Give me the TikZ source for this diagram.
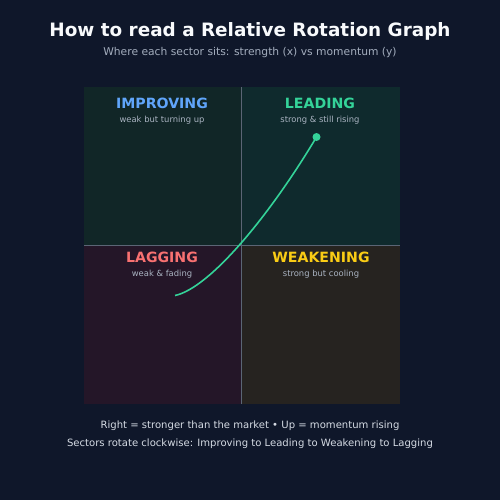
\documentclass[tikz,border=0pt]{standalone}
\usepackage{fontspec}
\setmainfont{DejaVu Sans}
\definecolor{bgc}{HTML}{0F172A}
\definecolor{qtl}{HTML}{112627}
\definecolor{qtr}{HTML}{0F2A2D}
\definecolor{qbl}{HTML}{241628}
\definecolor{qbr}{HTML}{262320}
\definecolor{axisc}{HTML}{5B6575}
\definecolor{titlec}{HTML}{F8FAFC}
\definecolor{subc}{HTML}{A3ADBD}
\definecolor{smallc}{HTML}{A9B3C1}
\definecolor{footc}{HTML}{D5DBE4}
\definecolor{impc}{HTML}{60A5FA}
\definecolor{leadc}{HTML}{34D399}
\definecolor{lagc}{HTML}{F87171}
\definecolor{weakc}{HTML}{FACC15}
\definecolor{curvec}{HTML}{34D399}
\tikzset{
  qname/.style={font=\bfseries\fontsize{10.6}{12}\selectfont, anchor=center, inner sep=0pt},
  qsub/.style={font=\fontsize{6.3}{7}\selectfont, text=smallc, anchor=center, inner sep=0pt},
  foot/.style={font=\fontsize{7.55}{9}\selectfont, text=footc, anchor=center, inner sep=0pt},
}
\begin{document}
\begin{tikzpicture}[x=0.75pt,y=-0.75pt]
\fill[bgc] (0,0) rectangle (500,500);
\useasboundingbox (0,0) rectangle (500,500);
% title
\node[font=\bfseries\fontsize{13.8}{16}\selectfont, text=titlec, inner sep=0pt] (title) at (250,31) {How to read a Relative Rotation Graph};
\node[font=\fontsize{8.05}{10}\selectfont, text=subc, inner sep=0pt] (subtitle) at (250,53) {Where each sector sits: strength (x) vs momentum (y)};
% quadrants
\fill[qtl] (84,87) rectangle (241,245);
\fill[qtr] (241,87) rectangle (400,245);
\fill[qbl] (84,245) rectangle (241,404);
\fill[qbr] (241,245) rectangle (400,404);
\draw[axisc, line width=0.75pt] (241,87) -- (241,404);
\draw[axisc, line width=0.75pt] (84,245) -- (400,245);
% labels
\node[qname, text=impc] (imp) at (162,103) {IMPROVING};
\node[qsub] (impsub) at (162,120) {weak but turning up};
\node[qname, text=leadc] (lead) at (320,103) {LEADING};
\node[qsub] (leadsub) at (320,120) {strong \& still rising};
\node[qname, text=lagc] (lag) at (162,257) {LAGGING};
\node[qsub] (lagsub) at (162,274) {weak \& fading};
\node[qname, text=weakc] (weak) at (321,257) {WEAKENING};
\node[qsub] (weaksub) at (321,274) {strong but cooling};
% curve
\coordinate (cstart) at (175,295.5);
\node[circle, fill=curvec, inner sep=0pt, minimum size=6pt] (dot) at (316.5,137) {};
\draw[curvec, line width=1.2pt] (cstart) .. controls (210,288) and (270,215) .. (dot.center);
% footer
\node[foot] (foot1) at (250,425.5) {Right = stronger than the market • Up = momentum rising};
\node[foot] (foot2) at (250,443.5) {Sectors rotate clockwise: Improving to Leading to Weakening to Lagging};
\end{tikzpicture}
\end{document}
